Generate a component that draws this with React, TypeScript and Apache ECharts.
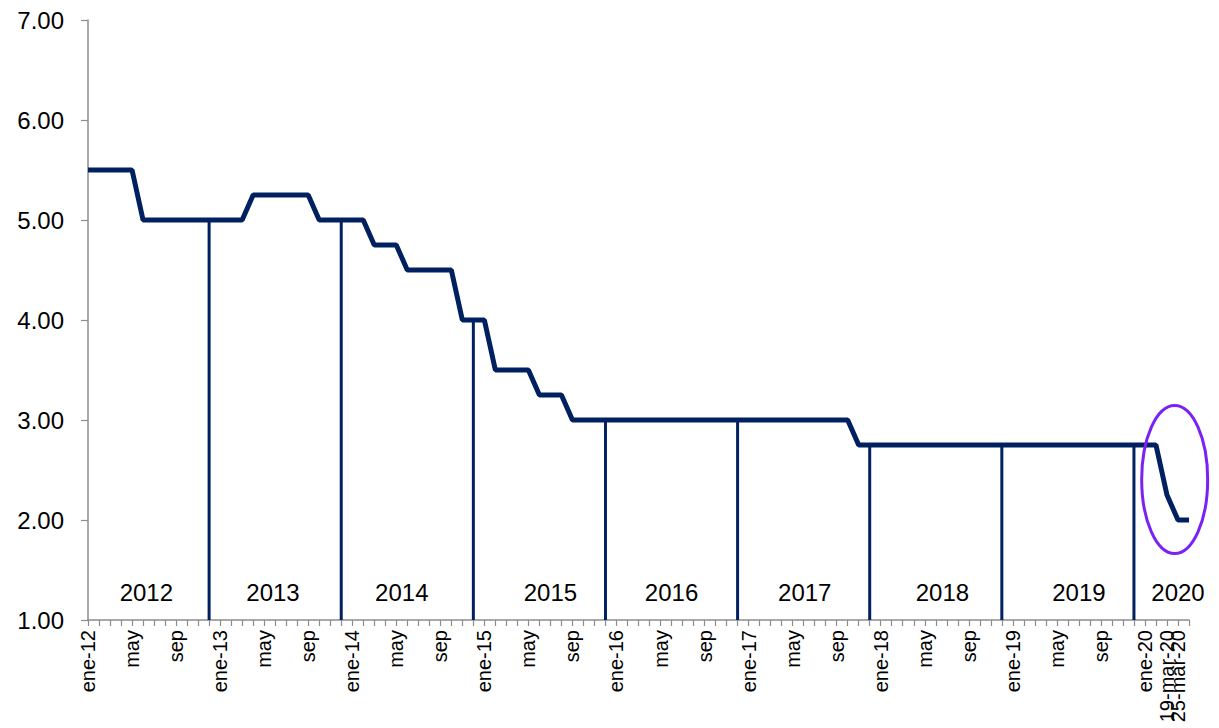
import React, { useEffect, useRef } from "react";
import * as echarts from "echarts";

const MONTHS = ["ene", "feb", "mar", "abr", "may", "jun", "jul", "ago", "sep", "oct", "nov", "dic"];
const YEARS = ["12", "13", "14", "15", "16", "17", "18", "19"];
const EXTRA_CATEGORIES = ["ene-20", "feb-20", "19-mar-20", "25-mar-20", "abr-20"];

const categories: string[] = [];
YEARS.forEach((y) => MONTHS.forEach((m) => categories.push(`${m}-${y}`)));
EXTRA_CATEGORIES.forEach((c) => categories.push(c));

// Tasa de interés líder (%), mensual
const rates2012 = [5.5, 5.5, 5.5, 5.5, 5.5, 5.0, 5.0, 5.0, 5.0, 5.0, 5.0, 5.0];
const rates2013 = [5.0, 5.0, 5.0, 5.25, 5.25, 5.25, 5.25, 5.25, 5.25, 5.0, 5.0, 5.0];
const rates2014 = [5.0, 5.0, 4.75, 4.75, 4.75, 4.5, 4.5, 4.5, 4.5, 4.5, 4.0, 4.0];
const rates2015 = [4.0, 3.5, 3.5, 3.5, 3.5, 3.25, 3.25, 3.25, 3.0, 3.0, 3.0, 3.0];
const rates2016 = [3.0, 3.0, 3.0, 3.0, 3.0, 3.0, 3.0, 3.0, 3.0, 3.0, 3.0, 3.0];
const rates2017 = [3.0, 3.0, 3.0, 3.0, 3.0, 3.0, 3.0, 3.0, 3.0, 3.0, 2.75, 2.75];
const rates2018 = [2.75, 2.75, 2.75, 2.75, 2.75, 2.75, 2.75, 2.75, 2.75, 2.75, 2.75, 2.75];
const rates2019 = [2.75, 2.75, 2.75, 2.75, 2.75, 2.75, 2.75, 2.75, 2.75, 2.75, 2.75, 2.75];
const rates2020 = [2.75, 2.75, 2.25, 2.0, 2.0];

const rates = [
  ...rates2012, ...rates2013, ...rates2014, ...rates2015, ...rates2016,
  ...rates2017, ...rates2018, ...rates2019, ...rates2020,
];

const yearLabels = ["2012", "2013", "2014", "2015", "2016", "2017", "2018", "2019", "2020"];
const yearLabelX = [5.3, 16.8, 28.5, 42.0, 53.0, 65.1, 77.6, 90.0, 99.0];
const yearLabelY = 1.28;

const highlightCenter = [98.7, 2.405];

const NAVY = "#002060";
const AXIS_GRAY = "#8c8c8c";
const FONT = "'Liberation Sans', Arial, sans-serif";

function tickLabel(c: string): string {
  if (c.startsWith("ene-")) return c;
  if (c.startsWith("may-")) return "may";
  if (c.startsWith("sep-")) return "sep";
  if (c.split("-").length === 3) return c;
  return "";
}

export default function App() {
  const ref = useRef<HTMLDivElement>(null);
  useEffect(() => {
    if (!ref.current) return;
    const chart = echarts.init(ref.current, undefined, { renderer: "svg" });
    const separatorData = categories.map((c, i) => (c.startsWith("dic-") ? rates[i] : "-"));
    chart.setOption({
      animation: false,
      backgroundColor: "#ffffff",
      grid: { left: 88, right: 30, top: 20, bottom: 108, containLabel: false },
      xAxis: [
        {
          type: "category",
          data: categories,
          boundaryGap: false,
          axisLine: { show: true, lineStyle: { color: AXIS_GRAY, width: 1.5 } },
          axisTick: { show: true, interval: 0, length: 6, lineStyle: { color: AXIS_GRAY, width: 1.2 } },
          axisLabel: {
            interval: 0,
            rotate: 90,
            margin: 10,
            fontSize: 20,
            color: "#000",
            fontFamily: FONT,
            formatter: (v: string) => tickLabel(v),
          },
          splitLine: { show: false },
        },
        {
          type: "value",
          min: 0,
          max: categories.length - 1,
          show: false,
          gridIndex: 0,
        },
      ],
      yAxis: {
        type: "value",
        min: 1,
        max: 7,
        interval: 1,
        axisLine: { show: true, lineStyle: { color: AXIS_GRAY, width: 1.5 } },
        axisTick: { show: true, length: 7, lineStyle: { color: AXIS_GRAY, width: 1.2 } },
        axisLabel: {
          margin: 24,
          fontSize: 24,
          color: "#000",
          fontFamily: FONT,
          formatter: (v: number) => v.toFixed(2),
        },
        splitLine: { show: false },
      },
      series: [
        {
          type: "bar",
          data: separatorData,
          barWidth: 3,
          clip: true,
          itemStyle: { color: NAVY },
          silent: true,
        },
        {
          type: "line",
          data: rates,
          symbol: "none",
          lineStyle: { color: NAVY, width: 5 },
          itemStyle: { color: NAVY },
          z: 5,
        },
        {
          type: "scatter",
          xAxisIndex: 1,
          symbolSize: 0,
          silent: true,
          itemStyle: { opacity: 1, color: "#000" },
          data: yearLabels.map((name, i) => ({ name, value: [yearLabelX[i], yearLabelY] })),
          label: {
            show: true,
            position: "inside",
            formatter: (p: any) => p.name,
            fontSize: 24,
            color: "#000",
            opacity: 1,
            fontFamily: FONT,
          },
        },
      ],
    });
    const c = chart.convertToPixel({ seriesIndex: 2 }, highlightCenter) as number[];
    if (c) {
      chart.setOption({
        graphic: [
          {
            type: "ellipse",
            shape: { cx: c[0], cy: c[1], rx: 33, ry: 74 },
            style: { fill: "none", stroke: "#7a22f5", lineWidth: 3 },
            z: 10,
          },
        ],
      });
    }
    return () => chart.dispose();
  }, []);
  return (
    <div
      ref={ref}
      style={{ position: "fixed", left: 0, top: 0, width: 1219, height: 728, background: "#fff" }}
    />
  );
}
